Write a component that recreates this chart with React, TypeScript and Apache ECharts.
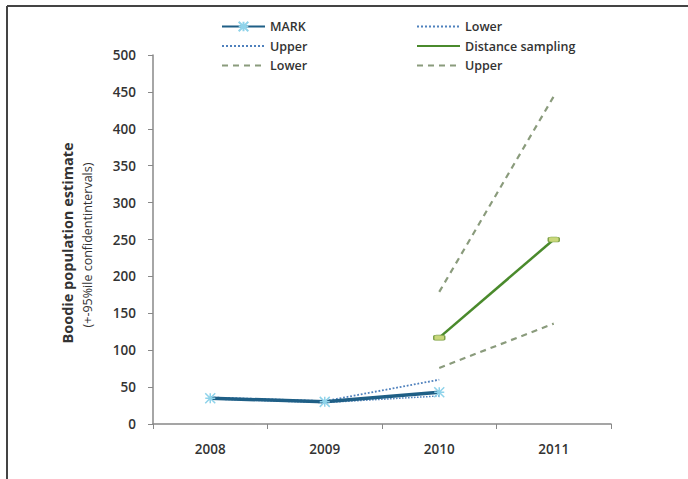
import React, { useEffect, useRef } from "react";
import * as echarts from "echarts";

const years = ["2008", "2009", "2010", "2011"];
const markValues = [35, 30, 43, null];
const markLower = [34, 29, 38, null];
const markUpper = [36, 31, 60, null];
const dsValues = [null, null, 117, 250];
const dsLower = [null, null, 76, 136];
const dsUpper = [null, null, 179, 444];

const legendText: Record<string, string> = {
  "MARK": "MARK",
  "MARK Lower": "Lower",
  "MARK Upper": "Upper",
  "Distance sampling": "Distance sampling",
  "DS Lower": "Lower",
  "DS Upper": "Upper",
};

const FONT = "'Open Sans', 'DejaVu Sans', sans-serif";

export default function App() {
  const ref = useRef<HTMLDivElement>(null);
  useEffect(() => {
    if (!ref.current) return;
    const chart = echarts.init(ref.current, null, { renderer: "svg" });
    const starPath = "path://M0,0 L10,10 M10,0 L0,10 M5,0 L5,10 M0,5 L10,5";
    const hidden = { color: "rgba(0,0,0,0)", borderColor: "rgba(0,0,0,0)", borderWidth: 0 };
    const legendCommon = {
      orient: "vertical" as const,
      itemWidth: 43,
      itemHeight: 12,
      itemGap: 6.5,
      textStyle: { fontSize: 12.5, color: "#333", fontFamily: FONT, fontWeight: 600 as any },
      formatter: (n: string) => legendText[n] ?? n,
      selectedMode: false,
    };
    chart.setOption({
      animation: false,
      backgroundColor: "#fff",
      grid: { left: 153, right: 77, top: 55, bottom: 55 },
      legend: [
        {
          ...legendCommon,
          left: 216,
          top: 15,
          data: [
            { name: "MARK" },
            { name: "MARK Upper", itemStyle: hidden },
            { name: "DS Lower", itemStyle: hidden },
          ],
        },
        {
          ...legendCommon,
          left: 411,
          top: 15,
          data: [
            { name: "MARK Lower", itemStyle: hidden },
            { name: "Distance sampling", itemStyle: hidden },
            { name: "DS Upper", itemStyle: hidden },
          ],
        },
      ],
      xAxis: {
        type: "category",
        data: years,
        boundaryGap: true,
        axisLine: { lineStyle: { color: "#888", width: 1.5 } },
        axisTick: { show: true, length: 5, lineStyle: { color: "#888" } },
        axisLabel: { fontSize: 13.5, color: "#333", fontFamily: FONT, fontWeight: 600 as any, margin: 18 },
        splitLine: { show: false },
      },
      yAxis: {
        type: "value",
        min: 0,
        max: 500,
        interval: 50,
        axisLine: { show: true, lineStyle: { color: "#888", width: 1.5 } },
        axisTick: { show: true, length: 5, lineStyle: { color: "#888" } },
        axisLabel: { fontSize: 13.5, color: "#333", fontFamily: FONT, fontWeight: 600 as any, margin: 17 },
        splitLine: { show: false },
      },
      graphic: [
        { type: "line", shape: { x1: 7, y1: 6, x2: 688, y2: 6 }, style: { stroke: "#444", lineWidth: 2 } },
        { type: "line", shape: { x1: 7, y1: 6, x2: 7, y2: 479 }, style: { stroke: "#444", lineWidth: 2 } },
        {
          type: "text",
          x: 67,
          y: 243,
          rotation: Math.PI / 2,
          style: {
            text: "Boodie population estimate",
            fontSize: 14.5,
            fontWeight: "bold",
            fontFamily: FONT,
            fill: "#333",
            align: "center",
            verticalAlign: "middle",
          },
        },
        {
          type: "text",
          x: 87,
          y: 245,
          rotation: Math.PI / 2,
          style: {
            text: "(+-95%ile confidentintervals)",
            fontSize: 12.5,
            fontFamily: FONT,
            fill: "#333",
            align: "center",
            verticalAlign: "middle",
          },
        },
      ],
      series: [
        {
          name: "MARK Lower",
          type: "line",
          data: markLower,
          symbol: "none",
          lineStyle: { color: "#4f81bd", width: 1.5, type: "dotted" },
          itemStyle: { color: "#4f81bd" },
          z: 2,
        },
        {
          name: "MARK Upper",
          type: "line",
          data: markUpper,
          symbol: "none",
          lineStyle: { color: "#4f81bd", width: 1.8, type: "dotted" },
          itemStyle: { color: "#4f81bd" },
          z: 2,
        },
        {
          name: "MARK",
          type: "line",
          data: markValues,
          symbol: starPath,
          symbolSize: 10,
          lineStyle: { color: "#1f5f86", width: 3.5 },
          itemStyle: { color: "rgba(0,0,0,0)", borderColor: "#8fd3ea", borderWidth: 1.5 },
          z: 3,
        },
        {
          name: "Distance sampling",
          type: "line",
          data: dsValues,
          symbol: "roundRect",
          symbolSize: [11, 5],
          lineStyle: { color: "#4a8a2c", width: 2.5 },
          itemStyle: { color: "#c9d77a", borderColor: "#7ea24a", borderWidth: 1 },
          z: 3,
        },
        {
          name: "DS Lower",
          type: "line",
          data: dsLower,
          symbol: "none",
          lineStyle: { color: "#8a9b7c", width: 2.2, type: [6, 5] },
          itemStyle: { color: "#8a9b7c" },
          z: 2,
        },
        {
          name: "DS Upper",
          type: "line",
          data: dsUpper,
          symbol: "none",
          lineStyle: { color: "#8a9b7c", width: 2.2, type: [6, 5] },
          itemStyle: { color: "#8a9b7c" },
          z: 2,
        },
      ],
    });
    return () => chart.dispose();
  }, []);
  return (
    <div
      ref={ref}
      style={{ position: "absolute", left: 0, top: 0, width: 688, height: 479 }}
    />
  );
}
